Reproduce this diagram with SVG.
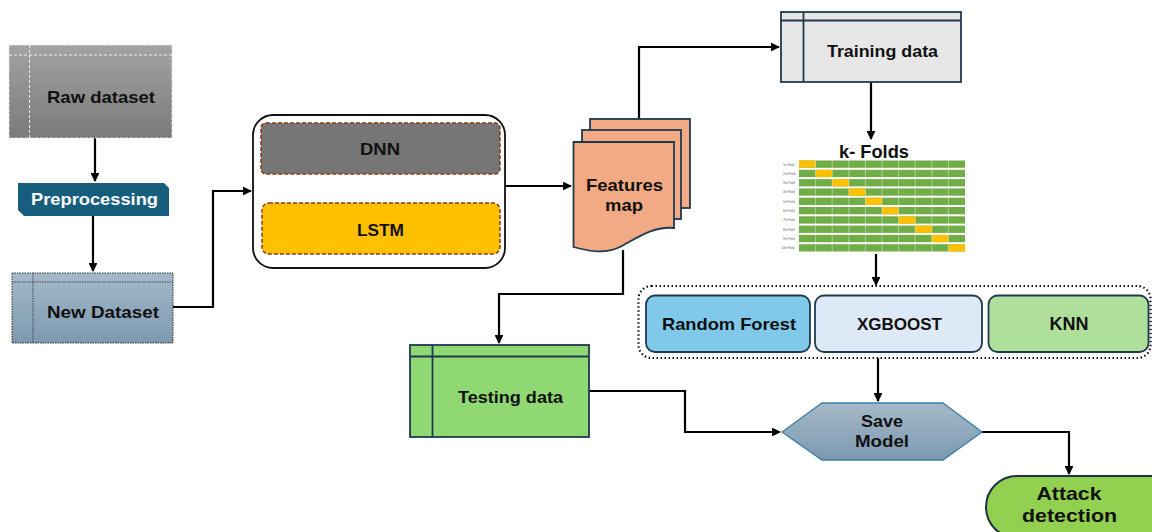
<svg xmlns="http://www.w3.org/2000/svg" width="1152" height="532" viewBox="0 0 1152 532">
<style>
.t{font-family:"Liberation Sans",Arial,sans-serif;font-weight:bold;font-size:17px;fill:#111;text-anchor:middle}
.w{fill:#fff}
.c{fill:none;stroke:#000;stroke-width:2.2}
.fl{font-family:"Liberation Sans",Arial,sans-serif;font-size:3.2px;fill:#666}
.g{fill:#70ad47}
.y{fill:#ffc000}
.box{stroke:#1f3a4f;stroke-width:1.8}
</style>
<defs>
<marker id="ah" viewBox="0 0 10 10" refX="9" refY="5" markerWidth="4" markerHeight="4" orient="auto" markerUnits="strokeWidth">
<path d="M0,0 L10,5 L0,10 Z" fill="#000"/>
</marker>
<linearGradient id="gRaw" x1="0" y1="0" x2="0" y2="1"><stop offset="0" stop-color="#a3a3a3"/><stop offset="1" stop-color="#7a7a7a"/></linearGradient>
<linearGradient id="gBlue" x1="0" y1="0" x2="0" y2="1"><stop offset="0" stop-color="#a5b9c9"/><stop offset="1" stop-color="#7d99af"/></linearGradient>
</defs>

<g id="connectors">
<path class="c" d="M95,138 V181" marker-end="url(#ah)"/>
<path class="c" d="M93,216 V271" marker-end="url(#ah)"/>
<path class="c" d="M173,307 H213 V191 H251" marker-end="url(#ah)"/>
<path class="c" d="M505,186 H571" marker-end="url(#ah)"/>
<path class="c" d="M639,119 V47 H779" marker-end="url(#ah)"/>
<path class="c" d="M871,82 V139" marker-end="url(#ah)"/>
<path class="c" d="M876,254 V285" marker-end="url(#ah)"/>
<path class="c" d="M878,358 V401" marker-end="url(#ah)"/>
<path class="c" d="M623,250 V294 H499 V343" marker-end="url(#ah)"/>
<path class="c" d="M589,391 H685 V432 H780" marker-end="url(#ah)"/>
<path class="c" d="M982,432 H1069 V474" marker-end="url(#ah)"/>
</g>

<g id="raw-dataset">
<rect x="9" y="45" width="163" height="93" fill="url(#gRaw)" stroke="#e8e8e8" stroke-width="1" stroke-dasharray="3,2"/>
<line x1="29.5" y1="45" x2="29.5" y2="138" stroke="#eee" stroke-width="1" stroke-dasharray="3,2"/>
<line x1="9" y1="55" x2="172" y2="55" stroke="#eee" stroke-width="1" stroke-dasharray="3,2"/>
<text class="t" x="101" y="103" textLength="108" lengthAdjust="spacingAndGlyphs">Raw dataset</text>
</g>

<g id="preprocessing">
<path d="M18,183 H164 L169,188 V216 H24 L18,210 Z" fill="#175e7e"/>
<text class="t w" x="94.5" y="205" textLength="127" lengthAdjust="spacingAndGlyphs">Preprocessing</text>
</g>

<g id="new-dataset">
<rect x="12" y="273" width="161" height="70" fill="url(#gBlue)" stroke="#333" stroke-width="1" stroke-dasharray="1.5,1"/>
<line x1="33" y1="273" x2="33" y2="343" stroke="#445" stroke-width="1" stroke-dasharray="1.5,1"/>
<line x1="12" y1="282" x2="173" y2="282" stroke="#445" stroke-width="1" stroke-dasharray="1.5,1"/>
<text class="t" x="103" y="318" textLength="112" lengthAdjust="spacingAndGlyphs">New Dataset</text>
</g>

<g id="models-dl">
<rect x="253" y="115" width="252" height="153" rx="20" fill="#fff" stroke="#111" stroke-width="1.8"/>
<g id="dnn">
<rect x="261" y="123" width="239" height="51" rx="5" fill="#767676" stroke="#8b3a14" stroke-width="1.5" stroke-dasharray="4,2"/>
<text class="t" x="380" y="155" textLength="40" lengthAdjust="spacingAndGlyphs">DNN</text>
</g>
<g id="lstm">
<rect x="262" y="203" width="238" height="51" rx="7" fill="#ffc000" stroke="#8b3a14" stroke-width="1.5" stroke-dasharray="4,2"/>
<text class="t" x="380.5" y="235.5" textLength="47" lengthAdjust="spacingAndGlyphs">LSTM</text>
</g>
</g>

<g id="features-map">
<rect x="590" y="119" width="100" height="89" fill="#f1aa84" stroke="#1f3a4f" stroke-width="1.8"/>
<rect x="582" y="130" width="99" height="89" fill="#f1aa84" stroke="#1f3a4f" stroke-width="1.8"/>
<path d="M573.5,142 H674 V228 C655,226 640,236 622,246 C605,255 588,251 573.5,247 Z" fill="#f1aa84" stroke="#1f3a4f" stroke-width="1.8"/>
<text class="t" x="624.5" y="191" textLength="77" lengthAdjust="spacingAndGlyphs">Features</text>
<text class="t" x="624" y="211" textLength="38" lengthAdjust="spacingAndGlyphs">map</text>
</g>

<g id="training-data">
<rect x="781" y="12" width="180" height="70" fill="#e7e7e7" class="box"/>
<line x1="803.5" y1="12" x2="803.5" y2="82" stroke="#1f3a4f" stroke-width="1.8"/>
<line x1="781" y1="20.5" x2="961" y2="20.5" stroke="#1f3a4f" stroke-width="1.8"/>
<text class="t" x="882.5" y="57" textLength="111" lengthAdjust="spacingAndGlyphs">Training data</text>
</g>

<g id="k-folds">
<text class="t" x="874" y="157.5" style="font-size:19px" textLength="70" lengthAdjust="spacingAndGlyphs">k- Folds</text>
<rect class="g" x="799" y="160.5" width="166" height="7.3"/><rect class="y" x="799" y="160.5" width="16.6" height="7.3"/>
<rect class="g" x="799" y="169.8" width="166" height="7.3"/><rect class="y" x="815.6" y="169.8" width="16.6" height="7.3"/>
<rect class="g" x="799" y="179.1" width="166" height="7.3"/><rect class="y" x="832.2" y="179.1" width="16.6" height="7.3"/>
<rect class="g" x="799" y="188.4" width="166" height="7.3"/><rect class="y" x="848.8" y="188.4" width="16.6" height="7.3"/>
<rect class="g" x="799" y="197.7" width="166" height="7.3"/><rect class="y" x="865.4" y="197.7" width="16.6" height="7.3"/>
<rect class="g" x="799" y="207.0" width="166" height="7.3"/><rect class="y" x="882" y="207.0" width="16.6" height="7.3"/>
<rect class="g" x="799" y="216.3" width="166" height="7.3"/><rect class="y" x="898.6" y="216.3" width="16.6" height="7.3"/>
<rect class="g" x="799" y="225.6" width="166" height="7.3"/><rect class="y" x="915.2" y="225.6" width="16.6" height="7.3"/>
<rect class="g" x="799" y="234.9" width="166" height="7.3"/><rect class="y" x="931.8" y="234.9" width="16.6" height="7.3"/>
<rect class="g" x="799" y="244.2" width="166" height="7.3"/><rect class="y" x="948.4" y="244.2" width="16.6" height="7.3"/>
<g stroke="#fff" stroke-width="0.7" stroke-opacity="0.6">
<line x1="815.6" y1="160" x2="815.6" y2="252"/><line x1="832.2" y1="160" x2="832.2" y2="252"/>
<line x1="848.8" y1="160" x2="848.8" y2="252"/><line x1="865.4" y1="160" x2="865.4" y2="252"/>
<line x1="882" y1="160" x2="882" y2="252"/><line x1="898.6" y1="160" x2="898.6" y2="252"/>
<line x1="915.2" y1="160" x2="915.2" y2="252"/><line x1="931.8" y1="160" x2="931.8" y2="252"/>
<line x1="948.4" y1="160" x2="948.4" y2="252"/>
</g>
<text class="fl" x="783" y="165.5">1st Fold</text>
<text class="fl" x="783" y="174.8">2nd Fold</text>
<text class="fl" x="783" y="184.1">3rd Fold</text>
<text class="fl" x="783" y="193.4">4th Fold</text>
<text class="fl" x="783" y="202.7">5th Fold</text>
<text class="fl" x="783" y="212.0">6th Fold</text>
<text class="fl" x="783" y="221.3">7th Fold</text>
<text class="fl" x="783" y="230.6">8th Fold</text>
<text class="fl" x="783" y="239.9">9th Fold</text>
<text class="fl" x="781" y="249.2">10th Fold</text>
</g>

<g id="classifiers">
<rect x="638.5" y="286" width="512" height="72" rx="13" fill="none" stroke="#111" stroke-width="2.2" stroke-dasharray="1.5,2.5"/>
<g id="random-forest">
<rect x="646" y="295.5" width="164" height="56.5" rx="9" fill="#80c9ea" class="box"/>
<text class="t" x="729" y="330" textLength="134" lengthAdjust="spacingAndGlyphs">Random Forest</text>
</g>
<g id="xgboost">
<rect x="815" y="295.5" width="167" height="56.5" rx="9" fill="#dde9f6" class="box"/>
<text class="t" x="899.5" y="330">XGBOOST</text>
</g>
<g id="knn">
<rect x="988.5" y="295.5" width="160" height="56.5" rx="9" fill="#afe09b" class="box"/>
<text class="t" x="1069" y="330" style="font-size:18px">KNN</text>
</g>
</g>

<g id="testing-data">
<rect x="410" y="345" width="179" height="92" fill="#8fd872" class="box"/>
<line x1="432.5" y1="345" x2="432.5" y2="437" stroke="#1f3a4f" stroke-width="1.8"/>
<line x1="410" y1="356.5" x2="589" y2="356.5" stroke="#1f3a4f" stroke-width="1.8"/>
<text class="t" x="510.5" y="403" textLength="105" lengthAdjust="spacingAndGlyphs">Testing data</text>
</g>

<g id="save-model">
<path d="M782,432 L822,403 H943 L982,432 L943,460 H822 Z" fill="url(#gBlue)" stroke="#3c7fa8" stroke-width="1.3"/>
<text class="t" x="882" y="427" textLength="42" lengthAdjust="spacingAndGlyphs">Save</text>
<text class="t" x="882" y="446.5" textLength="54" lengthAdjust="spacingAndGlyphs">Model</text>
</g>

<g id="attack-detection">
<rect x="986" y="476" width="200" height="62" rx="31" fill="#92d050" stroke="#1f3144" stroke-width="2"/>
<text class="t" x="1069" y="500" style="font-size:19px" textLength="65" lengthAdjust="spacingAndGlyphs">Attack</text>
<text class="t" x="1069.5" y="521.5" style="font-size:19px" textLength="95" lengthAdjust="spacingAndGlyphs">detection</text>
</g>
</svg>
